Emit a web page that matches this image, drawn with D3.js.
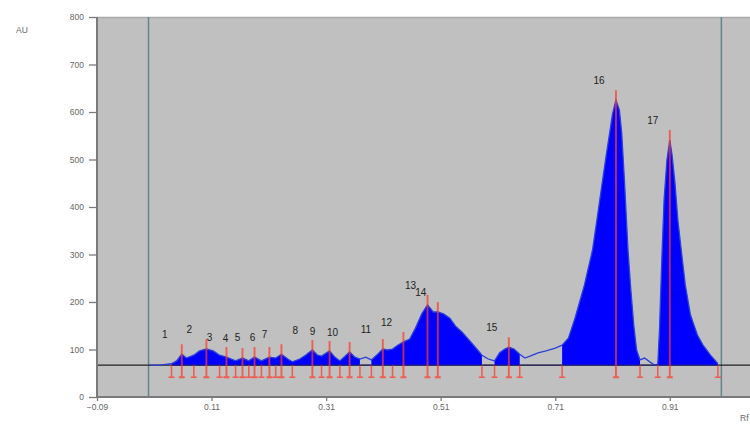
<!DOCTYPE html>
<html>
<head>
<meta charset="utf-8">
<script src="https://cdn.jsdelivr.net/npm/d3@7"></script>
<style>
  body { margin: 0; background: #fff; }
  svg { display: block; }
</style>
</head>
<body>
<div id="chart"></div>
<script>
// densitogram trace (Rf, AU)
const traceRf = [0.002, 0.019, 0.040, 0.049, 0.058, 0.066, 0.079, 0.089, 0.101, 0.113, 0.124, 0.136, 0.152, 0.164,
  0.175, 0.185, 0.197, 0.211, 0.222, 0.232, 0.243, 0.251, 0.264, 0.274, 0.286, 0.295, 0.302, 0.316, 0.325, 0.334,
  0.343, 0.351, 0.360, 0.369, 0.379, 0.389, 0.400, 0.409, 0.417, 0.426, 0.435, 0.445, 0.456, 0.466, 0.477, 0.487,
  0.497, 0.505, 0.515, 0.526, 0.536, 0.547, 0.561, 0.573, 0.582, 0.593, 0.604, 0.613, 0.622, 0.629, 0.638, 0.648,
  0.657, 0.666, 0.680, 0.694, 0.710, 0.722, 0.733, 0.745, 0.761, 0.775, 0.784, 0.792, 0.799, 0.805, 0.810, 0.816,
  0.822, 0.826, 0.831, 0.837, 0.842, 0.847, 0.852, 0.858, 0.866, 0.875, 0.884, 0.889, 0.892, 0.896, 0.900, 0.905,
  0.910, 0.914, 0.919, 0.924, 0.930, 0.937, 0.946, 0.958, 0.968, 0.981, 0.994];
const traceAu = [67, 67, 70, 76, 90, 82, 88, 97, 101, 97, 88, 84, 76, 82,
  76, 84, 76, 84, 82, 90, 80, 74, 80, 88, 99, 88, 86, 97, 84, 76,
  86, 95, 84, 80, 84, 78, 90, 101, 99, 101, 109, 116, 122, 145, 175, 194,
  179, 179, 175, 166, 149, 137, 118, 101, 88, 80, 76, 93, 101, 105, 101, 90,
  82, 86, 93, 97, 103, 109, 124, 168, 236, 309, 383, 451, 509, 556, 596, 625,
  604, 556, 451, 309, 225, 152, 99, 78, 82, 74, 67, 69, 141, 288, 415, 499,
  541, 509, 451, 373, 309, 236, 173, 131, 109, 88, 70];

// integrated zones (filled)
const zoneStart = [0.040, 0.389, 0.604, 0.722, 0.889];
const zoneEnd = [0.369, 0.582, 0.648, 0.858, 0.994];

// peaks
const peakLabels = ["1", "2", "3", "4", "5", "6", "7", "8", "9", "10", "11", "12", "13", "14", "15", "16", "17"];
const peakRf = [0.058, 0.101, 0.136, 0.164, 0.185, 0.211, 0.232, 0.286, 0.316, 0.351, 0.409, 0.445, 0.487, 0.505, 0.629, 0.816, 0.910];
const peakAu = [90, 101, 84, 82, 84, 84, 90, 99, 97, 95, 101, 116, 194, 179, 105, 625, 541];

// peak boundaries
const boundRf = [0.040, 0.079, 0.124, 0.152, 0.175, 0.197, 0.222, 0.251, 0.302, 0.334, 0.369, 0.389, 0.426,
  0.582, 0.604, 0.648, 0.722, 0.858, 0.889, 0.994];

const baselineAu = 67;
const yTicks = [0, 100, 200, 300, 400, 500, 600, 700, 800];
const xTicks = [-0.09, 0.11, 0.31, 0.51, 0.71, 0.91];
const frontLines = [0, 1];

const W = 750, H = 424;
const margin = { top: 17, right: 0, bottom: 27, left: 97 };

const svg = d3.select("#chart").append("svg")
  .attr("width", W)
  .attr("height", H);

const x = d3.scaleLinear().domain([-0.09, 1.05]).range([margin.left, W - margin.right]);
const y = d3.scaleLinear().domain([0, 800]).range([H - margin.bottom, margin.top]);

const pts = traceRf.map((r, i) => ({ rf: r, au: traceAu[i] }));

// plot background
svg.append("rect")
  .attr("x", margin.left).attr("y", margin.top)
  .attr("width", W - margin.left - margin.right)
  .attr("height", y(0) - margin.top)
  .attr("fill", "#c0c0c0");
svg.append("line")
  .attr("x1", margin.left).attr("x2", W)
  .attr("y1", margin.top + 0.5).attr("y2", margin.top + 0.5)
  .attr("stroke", "#a8a8a8").attr("stroke-width", 1.5);

// application / front lines
svg.selectAll("line.front")
  .data(frontLines)
  .enter().append("line")
  .attr("class", "front")
  .attr("x1", d => x(d)).attr("x2", d => x(d))
  .attr("y1", margin.top).attr("y2", y(0))
  .attr("stroke", "#62858b").attr("stroke-width", 1.5);

// baseline
svg.append("line")
  .attr("x1", margin.left).attr("x2", W)
  .attr("y1", y(baselineAu)).attr("y2", y(baselineAu))
  .attr("stroke", "#222").attr("stroke-width", 1.2);

// filled zones
const area = d3.area()
  .x(d => x(d.rf))
  .y0(y(baselineAu))
  .y1(d => y(d.au));

zoneStart.forEach((s, i) => {
  const seg = pts.filter(p => p.rf >= s - 1e-6 && p.rf <= zoneEnd[i] + 1e-6);
  svg.append("path")
    .datum(seg)
    .attr("d", area)
    .attr("fill", "#0000ff");
});

// trace line
const line = d3.line()
  .x(d => x(d.rf))
  .y(d => y(d.au));

svg.append("path")
  .datum(pts)
  .attr("d", line)
  .attr("fill", "none")
  .attr("stroke", "#2a40d8")
  .attr("stroke-width", 1.3);

// baseline under the fill shows darker
svg.append("line")
  .attr("x1", x(zoneStart[0])).attr("x2", x(zoneEnd[zoneEnd.length - 1]))
  .attr("y1", y(baselineAu)).attr("y2", y(baselineAu))
  .attr("stroke", "#2a2a70").attr("stroke-width", 1);

// peak boundary marks
const markColor = "#ff3a2a";
const markBottom = y(baselineAu) + 12;
const bounds = svg.append("g").attr("opacity", 0.75);
bounds.selectAll("path")
  .data(boundRf)
  .enter().append("path")
  .attr("d", d => {
    const bx = x(d);
    return "M" + bx + "," + y(baselineAu) + "V" + markBottom + "M" + (bx - 3) + "," + markBottom + "H" + (bx + 3);
  })
  .attr("stroke", markColor)
  .attr("stroke-width", 1.5)
  .attr("fill", "none");

// apex marks
const apex = svg.append("g").attr("opacity", 0.72);
apex.selectAll("path")
  .data(peakRf)
  .enter().append("path")
  .attr("d", (d, i) => {
    const px = x(d);
    return "M" + px + "," + (y(peakAu[i]) - 10) + "V" + markBottom + "M" + (px - 3) + "," + markBottom + "H" + (px + 3);
  })
  .attr("stroke", markColor)
  .attr("stroke-width", 1.9)
  .attr("fill", "none");

// peak labels
svg.selectAll("text.peak")
  .data(peakLabels)
  .enter().append("text")
  .attr("class", "peak")
  .attr("x", (d, i) => x(peakRf[i]) - 17)
  .attr("y", (d, i) => y(peakAu[i]) - 16)
  .attr("text-anchor", "middle")
  .attr("font-family", "Liberation Sans, Arial, sans-serif")
  .attr("font-size", 10)
  .attr("fill", "#222")
  .text(d => d);

// axes
const axisFont = "Liberation Sans, Arial, sans-serif";
const yAxis = svg.append("g")
  .attr("transform", "translate(" + margin.left + ",0)")
  .call(d3.axisLeft(y).tickValues(yTicks).tickSize(8).tickPadding(5));
const xAxis = svg.append("g")
  .attr("transform", "translate(0," + y(0) + ")")
  .call(d3.axisBottom(x).tickValues(xTicks).tickSize(4).tickPadding(3).tickFormat(d3.format(".2f")));

[yAxis, xAxis].forEach(g => {
  g.select(".domain").attr("stroke", "#7a7a7a").attr("stroke-width", 2);
  g.selectAll(".tick line").attr("stroke", "#7a7a7a").attr("stroke-width", 1.3);
  g.selectAll(".tick text")
    .attr("font-family", axisFont)
    .attr("font-size", 8.5)
    .attr("fill", "#666");
});
yAxis.select(".domain").attr("d", "M0," + margin.top + "V" + y(0));
xAxis.select(".domain").attr("d", "M" + margin.left + ",0H" + W);

svg.append("text")
  .attr("x", 22).attr("y", 33)
  .attr("text-anchor", "middle")
  .attr("font-family", axisFont)
  .attr("font-size", 8.5)
  .attr("fill", "#666")
  .text("AU");

svg.append("text")
  .attr("x", 740).attr("y", 421)
  .attr("font-family", axisFont)
  .attr("font-size", 8.5)
  .attr("fill", "#666")
  .text("Rf");
</script>
</body>
</html>
